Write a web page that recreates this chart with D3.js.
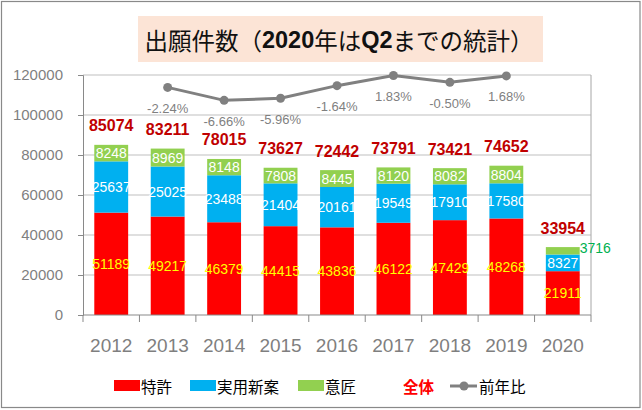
<!DOCTYPE html>
<html>
<head>
<meta charset="utf-8">
<script src="https://cdn.jsdelivr.net/npm/d3@7"></script>
<style>
  body { margin: 0; background: #fff; }
  svg text { font-family: "Liberation Sans", Arial, sans-serif; }
  .jp { font-family: "Noto Sans CJK JP", "Liberation Sans", sans-serif; }
</style>
</head>
<body>
<div class="chart"></div>
<script>
// data
const years = ['2012','2013','2014','2015','2016','2017','2018','2019','2020'];
const patent  = [51189,49217,46379,44415,43836,46122,47429,48268,21911];
const utility = [25637,25025,23488,21404,20161,19549,17910,17580,8327];
const design  = [8248,8969,8148,7808,8445,8120,8082,8804,3716];
const total   = [85074,83211,78015,73627,72442,73791,73421,74652,33954];
const yoy     = [null,-2.24,-6.66,-5.96,-1.64,1.83,-0.50,1.68,null];
const yTicks  = [0,20000,40000,60000,80000,100000,120000];

const W = 642, H = 410;
const plotL = 83, plotR = 591, plotT = 75, plotB = 315;

const svg = d3.select('.chart').append('svg')
  .attr('width', W).attr('height', H);

// outer frame
svg.append('rect')
  .attr('x', 1.5).attr('y', 1.5).attr('width', W - 3.5).attr('height', H - 4)
  .attr('fill', '#fff').attr('stroke', '#898989').attr('stroke-width', 1.2);

// title
svg.append('rect')
  .attr('x', 138).attr('y', 16).attr('width', 405).attr('height', 46)
  .attr('fill', '#FCE4D6');
const title = svg.append('text')
  .attr('x', 339).attr('y', 40)
  .attr('text-anchor', 'middle').attr('dominant-baseline', 'central')
  .attr('font-size', 23.5).attr('fill', '#111');
title.append('tspan').attr('class', 'jp').text('出願件数（');
title.append('tspan').attr('font-weight', 'bold').text('2020');
title.append('tspan').attr('class', 'jp').text('年は');
title.append('tspan').attr('font-weight', 'bold').text('Q2');
title.append('tspan').attr('class', 'jp').text('までの統計）');

const x = d3.scaleBand().domain(years).range([plotL, plotR]).paddingInner(0.4).paddingOuter(0.2);
const y = d3.scaleLinear().domain([0, 120000]).range([plotB, plotT]);
const y2 = d3.scaleLinear().domain([-0.8, 0.02]).range([plotB, plotT]); // hidden secondary axis

// grid
svg.append('g').selectAll('line')
  .data(yTicks.filter(d => d > 0))
  .join('line')
  .attr('x1', plotL).attr('x2', plotR)
  .attr('y1', d => y(d)).attr('y2', d => y(d))
  .attr('stroke', '#BFBFBF').attr('stroke-width', 1);

// plot border right side
svg.append('line')
  .attr('x1', plotR).attr('x2', plotR).attr('y1', plotT).attr('y2', plotB)
  .attr('stroke', '#A6A6A6');

// y axis
const yAxis = svg.append('g')
  .attr('transform', `translate(${plotL},0)`)
  .call(d3.axisLeft(y).tickValues(yTicks).tickSize(5).tickPadding(15).tickFormat(d3.format('d')));
yAxis.select('.domain').attr('stroke', '#898989');
yAxis.selectAll('.tick line').attr('stroke', '#898989');
yAxis.selectAll('text').attr('font-size', 15).attr('fill', '#7F7F7F')
  .attr('font-family', '"Liberation Sans", Arial, sans-serif');

// stacked bars
const stacks = [
  { color: '#FF0000', text: '#FFFF00' },
  { color: '#00B0F0', text: '#FFFFFF' },
  { color: '#92D050', text: '#FFFFFF' }
];
const rows = years.map((yr, i) => ({ year: yr, p: patent[i], u: utility[i], d: design[i] }));
const series = d3.stack().keys(['p', 'u', 'd'])(rows);

series.forEach((s, k) => {
  svg.append('g').selectAll('rect')
    .data(s)
    .join('rect')
    .attr('x', d => x(d.data.year))
    .attr('width', x.bandwidth())
    .attr('y', d => y(d[1]))
    .attr('height', d => y(d[0]) - y(d[1]))
    .attr('fill', stacks[k].color);
});

// segment labels; the last design value sits beside its bar
const isSide = (k, i) => k === 2 && i === years.length - 1;
series.forEach((s, k) => {
  svg.append('g').selectAll('text')
    .data(s)
    .join('text')
    .attr('x', (d, i) => isSide(k, i) ? x(d.data.year) + x.bandwidth() : x(d.data.year) + x.bandwidth() / 2)
    .attr('y', (d, i) => isSide(k, i) ? y(d[1]) + 1 : (y(d[0]) + y(d[1])) / 2)
    .attr('text-anchor', (d, i) => isSide(k, i) ? 'start' : 'middle')
    .attr('dominant-baseline', 'central')
    .attr('font-size', 14)
    .attr('fill', (d, i) => isSide(k, i) ? '#00B050' : stacks[k].text)
    .text(d => d[1] - d[0]);
});

// totals
svg.append('g').selectAll('text')
  .data(total)
  .join('text')
  .attr('x', (d, i) => x(years[i]) + x.bandwidth() / 2)
  .attr('y', d => y(d) - 19)
  .attr('text-anchor', 'middle').attr('dominant-baseline', 'central')
  .attr('font-size', 16).attr('font-weight', 'bold').attr('fill', '#C00000')
  .text(d => d);

// x axis
const xAxis = svg.append('g')
  .attr('transform', `translate(0,${plotB})`)
  .call(d3.axisBottom(x).tickSize(0).tickPadding(24));
xAxis.select('.domain').attr('stroke', '#898989').attr('d', `M${plotL},0H${plotR}`);
xAxis.selectAll('text').attr('font-size', 19).attr('fill', '#7F7F7F')
  .attr('font-family', '"Liberation Sans", Arial, sans-serif');
// ticks between categories
svg.append('g').selectAll('line')
  .data(d3.range(years.length + 1))
  .join('line')
  .attr('x1', i => plotL + i * (plotR - plotL) / years.length)
  .attr('x2', i => plotL + i * (plotR - plotL) / years.length)
  .attr('y1', plotB).attr('y2', plotB + 7)
  .attr('stroke', '#898989');

// year-on-year line
const pts = yoy.map((v, i) => ({ year: years[i], v })).filter(d => d.v !== null);
svg.append('path')
  .datum(pts)
  .attr('fill', 'none').attr('stroke', '#808080').attr('stroke-width', 3)
  .attr('d', d3.line().x(d => x(d.year) + x.bandwidth() / 2).y(d => y2(d.v / 100)));
svg.append('g').selectAll('circle')
  .data(pts)
  .join('circle')
  .attr('cx', d => x(d.year) + x.bandwidth() / 2)
  .attr('cy', d => y2(d.v / 100))
  .attr('r', 4.5).attr('fill', '#808080');
svg.append('g').selectAll('text')
  .data(pts)
  .join('text')
  .attr('x', d => x(d.year) + x.bandwidth() / 2)
  .attr('y', d => y2(d.v / 100) + 21)
  .attr('text-anchor', 'middle').attr('dominant-baseline', 'central')
  .attr('font-size', 13).attr('fill', '#7F7F7F')
  .text(d => d.v.toFixed(2) + '%');

// legend
const lg = svg.append('g');
const legendItems = [
  { label: '特許', color: '#FF0000', x: 114 },
  { label: '実用新案', color: '#00B0F0', x: 190 },
  { label: '意匠', color: '#92D050', x: 298 }
];
legendItems.forEach(it => {
  lg.append('rect').attr('x', it.x).attr('y', 380).attr('width', 26).attr('height', 11).attr('fill', it.color);
  lg.append('text').attr('class', 'jp').attr('x', it.x + 27).attr('y', 385.5)
    .attr('dominant-baseline', 'central').attr('font-size', 15.5).attr('fill', '#000').text(it.label);
});
lg.append('text').attr('class', 'jp').attr('x', 403).attr('y', 385.5)
  .attr('dominant-baseline', 'central').attr('font-size', 15.5).attr('font-weight', 'bold')
  .attr('fill', '#FF0000').text('全体');
lg.append('line').attr('x1', 450).attr('x2', 477).attr('y1', 386).attr('y2', 386)
  .attr('stroke', '#808080').attr('stroke-width', 3);
lg.append('circle').attr('cx', 464).attr('cy', 386).attr('r', 4.5).attr('fill', '#808080');
lg.append('text').attr('class', 'jp').attr('x', 479).attr('y', 385.5)
  .attr('dominant-baseline', 'central').attr('font-size', 15.5).attr('fill', '#000').text('前年比');
</script>
</body>
</html>
